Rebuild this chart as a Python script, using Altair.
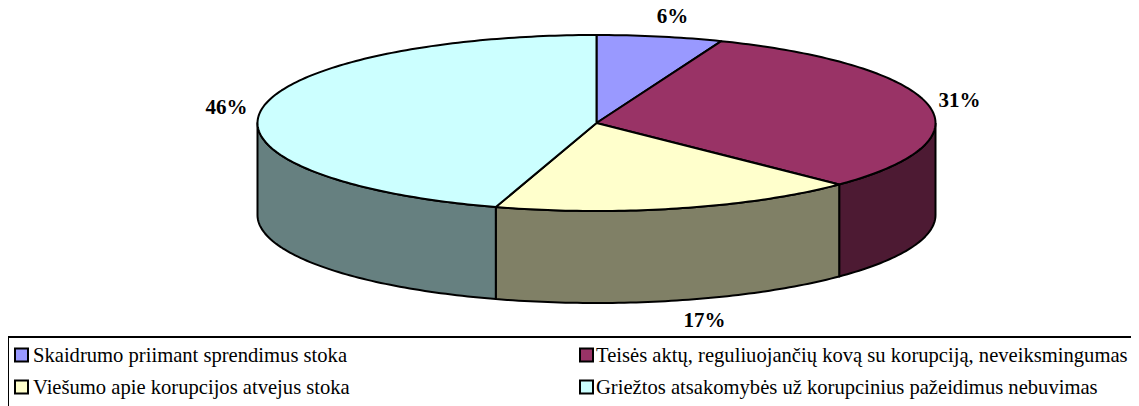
import math
import altair as alt
import pandas as pd

# Data
categories = ["Skaidrumo priimant sprendimus stoka",
              "Teisės aktų, reguliuojančių kovą su korupciją, neveiksmingumas",
              "Viešumo apie korupcijos atvejus stoka",
              "Griežtos atsakomybės už korupcinius pažeidimus nebuvimas"]
shares = [6.0, 31.3, 17.5, 45.2]
pct_labels = ["6%", "31%", "17%", "46%"]
top_colors = ["#9999FF", "#993366", "#FFFFCC", "#CCFFFF"]
side_colors = ["#4D4D80", "#4D1A33", "#808066", "#668080"]

# Layout (page pixels)
W, H = 1123, 398
CX, CY, RX, RY, DEPTH = 596.5, 123, 339, 88, 92
label_x = [672.5, 959.5, 704.5, 226.5]
label_y = [17, 101, 321, 108]
legend_x = [15, 580, 15, 580]
legend_y = [355, 355, 387, 387]
legend_text_x = [33, 596, 33, 596]

xs = alt.Scale(domain=[8, 8 + W], range=[0, W], nice=False, zero=False)
ys = alt.Scale(domain=[8, 8 + H], range=[0, H], nice=False, zero=False)
X = lambda f="x": alt.X(f"{f}:Q", scale=xs, axis=None)
Y = lambda f="y": alt.Y(f"{f}:Q", scale=ys, axis=None)


def pt(deg, drop=0):
    t = math.radians(deg)
    return CX + RX * math.sin(t), CY - RY * math.cos(t) + drop


def polygon(points, fill):
    df = pd.DataFrame(points, columns=["x", "y"])
    df["i"] = range(len(df))
    return alt.Chart(df).mark_line(
        fill=fill, stroke="black", strokeWidth=2, strokeJoin="round", clip=False
    ).encode(x=X(), y=Y(), order="i:Q")


layers = []
edges = [0]
for s in shares:
    edges.append(edges[-1] + s * 3.6)

# side walls
for k in range(4):
    a, b = max(edges[k], 90), min(edges[k + 1], 270)
    if b <= a:
        continue
    n = max(int(b - a), 1)
    angs = [a + (b - a) * j / n for j in range(n + 1)]
    pts = [pt(d) for d in angs] + [pt(d, DEPTH) for d in reversed(angs)]
    pts.append(pts[0])
    layers.append(polygon(pts, side_colors[k]))

# top sectors
for k in range(4):
    a, b = edges[k], edges[k + 1]
    n = max(int(b - a), 1)
    pts = [(CX, CY)] + [pt(a + (b - a) * j / n) for j in range(n + 1)] + [(CX, CY)]
    layers.append(polygon(pts, top_colors[k]))

# percent labels
lab = pd.DataFrame({"x": label_x, "y": label_y, "t": pct_labels})
layers.append(alt.Chart(lab).mark_text(
    font="Liberation Serif", fontSize=21, fontWeight="bold", color="black",
    align="center", baseline="middle"
).encode(x=X(), y=Y(), text="t:N"))

# legend frame
frame = pd.DataFrame({"x": [8, 8], "x2": [8 + W, 8], "y": [337, 337], "y2": [337, 8 + H]})
layers.append(alt.Chart(frame).mark_rule(color="black", strokeWidth=2).encode(
    x=X(), x2="x2:Q", y=Y(), y2="y2:Q"))

# legend entries
leg = pd.DataFrame({
    "x": legend_x, "y": legend_y, "t": categories, "c": top_colors,
    "x2": [v + 13 for v in legend_x],
    "y1": [v - 6.5 for v in legend_y], "y2": [v + 6.5 for v in legend_y],
    "tx": legend_text_x,
    "ty": [v + 1 for v in legend_y],
})
layers.append(alt.Chart(leg).mark_rect(stroke="black", strokeWidth=2).encode(
    x=X(), x2="x2:Q", y=Y("y1"), y2="y2:Q",
    fill=alt.Fill("c:N", scale=None)))
layers.append(alt.Chart(leg).mark_text(
    font="Liberation Serif", fontSize=20.6, color="black", align="left", baseline="middle"
).encode(x=X("tx"), y=Y("ty"), text="t:N"))

chart = alt.layer(*layers).properties(
    width=W, height=H, padding=0, autosize=alt.AutoSizeParams(type="none"),
    background="white"
).configure_view(stroke=None)

chart.save("out.html", embed_options={"renderer": "svg", "actions": False})
